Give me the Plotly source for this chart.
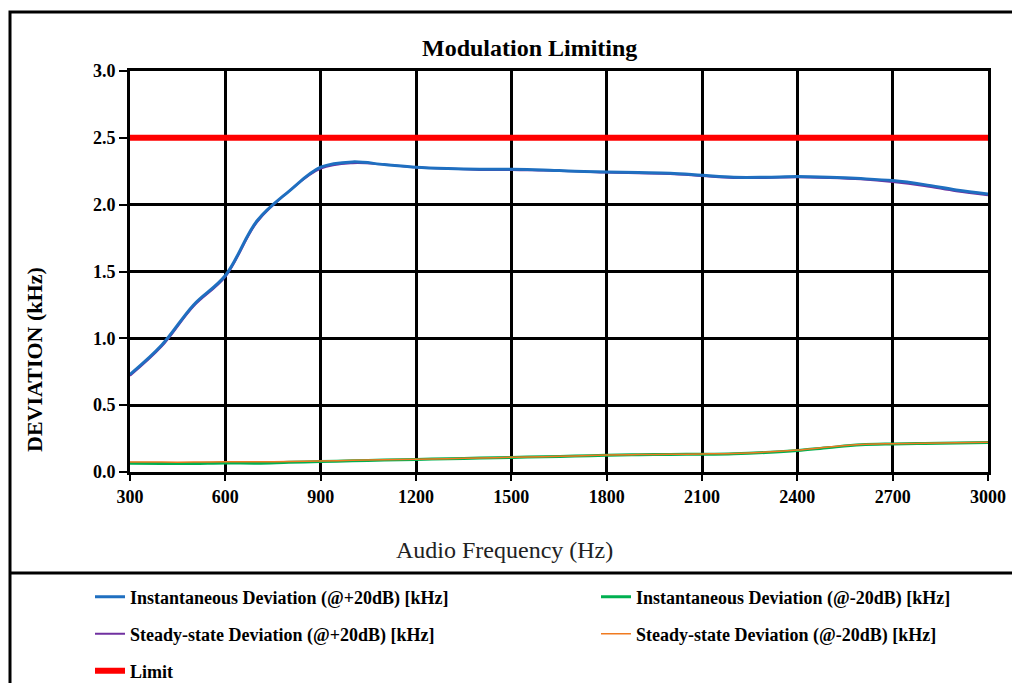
import plotly.graph_objects as go

# ---- data ----
freq_hz = [300, 400, 500, 600, 700, 800, 900, 1000, 1100, 1200, 1300, 1400, 1500, 1600,
           1700, 1800, 1900, 2000, 2100, 2200, 2300, 2400, 2500, 2600, 2700, 2800, 2900, 3000]

inst_plus20 = [0.73, 0.95, 1.25, 1.47, 1.88, 2.10, 2.28, 2.32, 2.30, 2.28, 2.27, 2.265, 2.265, 2.26,
               2.25, 2.245, 2.24, 2.235, 2.22, 2.205, 2.205, 2.21, 2.205, 2.195, 2.18, 2.15, 2.11, 2.08]
steady_plus20 = [0.72, 0.94, 1.24, 1.46, 1.87, 2.10, 2.27, 2.31, 2.30, 2.28, 2.27, 2.26, 2.26, 2.255,
                 2.25, 2.24, 2.235, 2.23, 2.215, 2.20, 2.20, 2.205, 2.20, 2.19, 2.17, 2.14, 2.10, 2.07]
inst_minus20 = [0.065, 0.063, 0.064, 0.068, 0.066, 0.073, 0.078, 0.084, 0.089, 0.094, 0.099, 0.104, 0.109, 0.114,
                0.119, 0.126, 0.129, 0.131, 0.133, 0.137, 0.146, 0.160, 0.183, 0.203, 0.210, 0.214, 0.217, 0.220]
steady_minus20 = [0.075, 0.074, 0.074, 0.076, 0.076, 0.079, 0.082, 0.087, 0.091, 0.096, 0.100, 0.105, 0.110, 0.115,
                  0.120, 0.127, 0.130, 0.132, 0.135, 0.139, 0.149, 0.164, 0.187, 0.206, 0.212, 0.216, 0.219, 0.222]
limit_khz = [2.5] * len(freq_hz)

x_ticks = [300, 600, 900, 1200, 1500, 1800, 2100, 2400, 2700, 3000]
y_ticks = [0.0, 0.5, 1.0, 1.5, 2.0, 2.5, 3.0]

names = {
    "ip": "Instantaneous Deviation (@+20dB) [kHz]",
    "im": "Instantaneous Deviation (@-20dB) [kHz]",
    "sp": "Steady-state Deviation (@+20dB) [kHz]",
    "sm": "Steady-state Deviation (@-20dB) [kHz]",
    "lim": "Limit",
}

# ---- layout geometry (pixels) ----
W, H = 1012, 683
L, R, T, B = 130, 24, 71, 211
PW, PH = W - L - R, H - T - B


def px_x(p):
    return (p - L) / PW


def px_y(p):
    return (H - B - p) / PH


FONT = "Liberation Serif"

fig = go.Figure()

fig.add_trace(go.Scatter(x=freq_hz, y=steady_plus20, name=names["sp"], mode="lines",
                         line=dict(color="#7030A0", width=2, shape="spline"), legend="legend3"))
fig.add_trace(go.Scatter(x=freq_hz, y=inst_plus20, name=names["ip"], mode="lines",
                         line=dict(color="#1F6FC0", width=3, shape="spline"), legend="legend"))
fig.add_trace(go.Scatter(x=freq_hz, y=inst_minus20, name=names["im"], mode="lines",
                         line=dict(color="#00B050", width=3, shape="spline"), legend="legend2"))
fig.add_trace(go.Scatter(x=freq_hz, y=steady_minus20, name=names["sm"], mode="lines",
                         line=dict(color="#F07A20", width=1.5, shape="spline"), legend="legend4"))
fig.add_trace(go.Scatter(x=freq_hz, y=limit_khz, name=names["lim"], mode="lines",
                         line=dict(color="#FF0000", width=6), legend="legend5"))

leg_font = dict(family=FONT, size=18, color="black", weight="bold")


def legend_at(xp, yp):
    return dict(x=px_x(xp), y=px_y(yp), xanchor="left", yanchor="middle",
                orientation="v", font=leg_font, bgcolor="rgba(0,0,0,0)",
                borderwidth=0, tracegroupgap=0)


col1, col2 = 90, 596
row1, row2, row3 = 597, 634, 671

tick_font = dict(family=FONT, size=18, color="black", weight="bold")

fig.update_layout(
    width=W, height=H,
    margin=dict(l=L, r=R, t=T, b=B, autoexpand=False),
    paper_bgcolor="white", plot_bgcolor="white",
    font=dict(family=FONT, color="black"),
    showlegend=True,
    legend=legend_at(col1, row1),
    legend2=legend_at(col2, row1),
    legend3=legend_at(col1, row2),
    legend4=legend_at(col2, row2),
    legend5=legend_at(col1, row3),
    xaxis=dict(range=[300, 3000], tickvals=x_ticks, ticktext=[str(v) for v in x_ticks],
               showgrid=True, gridcolor="black", gridwidth=3,
               showline=True, linecolor="black", linewidth=3, mirror=True,
               ticks="outside", ticklen=6, tickwidth=2, tickcolor="black",
               tickfont=tick_font, zeroline=False),
    yaxis=dict(range=[0, 3], tickvals=y_ticks, ticktext=[f"{v:.1f}" for v in y_ticks],
               showgrid=True, gridcolor="black", gridwidth=3,
               showline=True, linecolor="black", linewidth=3, mirror=True,
               ticks="outside", ticklen=8, tickwidth=2, tickcolor="black",
               tickfont=tick_font, zeroline=False),
    annotations=[
        dict(text="Modulation Limiting", x=px_x(529), y=px_y(48), xref="paper", yref="paper",
             showarrow=False, xanchor="center", yanchor="middle",
             font=dict(family=FONT, size=24, color="black", weight="bold")),
        dict(text="Audio Frequency (Hz)", x=px_x(504), y=px_y(550), xref="paper", yref="paper",
             showarrow=False, xanchor="center", yanchor="middle",
             font=dict(family=FONT, size=24, color="#222222")),
        dict(text="DEVIATION (kHz)", x=px_x(34), y=px_y(360), xref="paper", yref="paper",
             showarrow=False, xanchor="center", yanchor="middle", textangle=-90,
             font=dict(family=FONT, size=22, color="black", weight="bold")),
    ],
    shapes=[
        dict(type="rect", xref="paper", yref="paper",
             x0=px_x(10), x1=px_x(1018), y0=px_y(700), y1=px_y(12),
             line=dict(color="black", width=3), fillcolor="rgba(0,0,0,0)", layer="above"),
        dict(type="line", xref="paper", yref="paper",
             x0=px_x(10), x1=px_x(1018), y0=px_y(573), y1=px_y(573),
             line=dict(color="black", width=3), layer="above"),
    ],
)

fig.write_html("out.html", config={"displayModeBar": False},
               post_script="document.body.style.margin='0';document.body.style.overflow='hidden';")
